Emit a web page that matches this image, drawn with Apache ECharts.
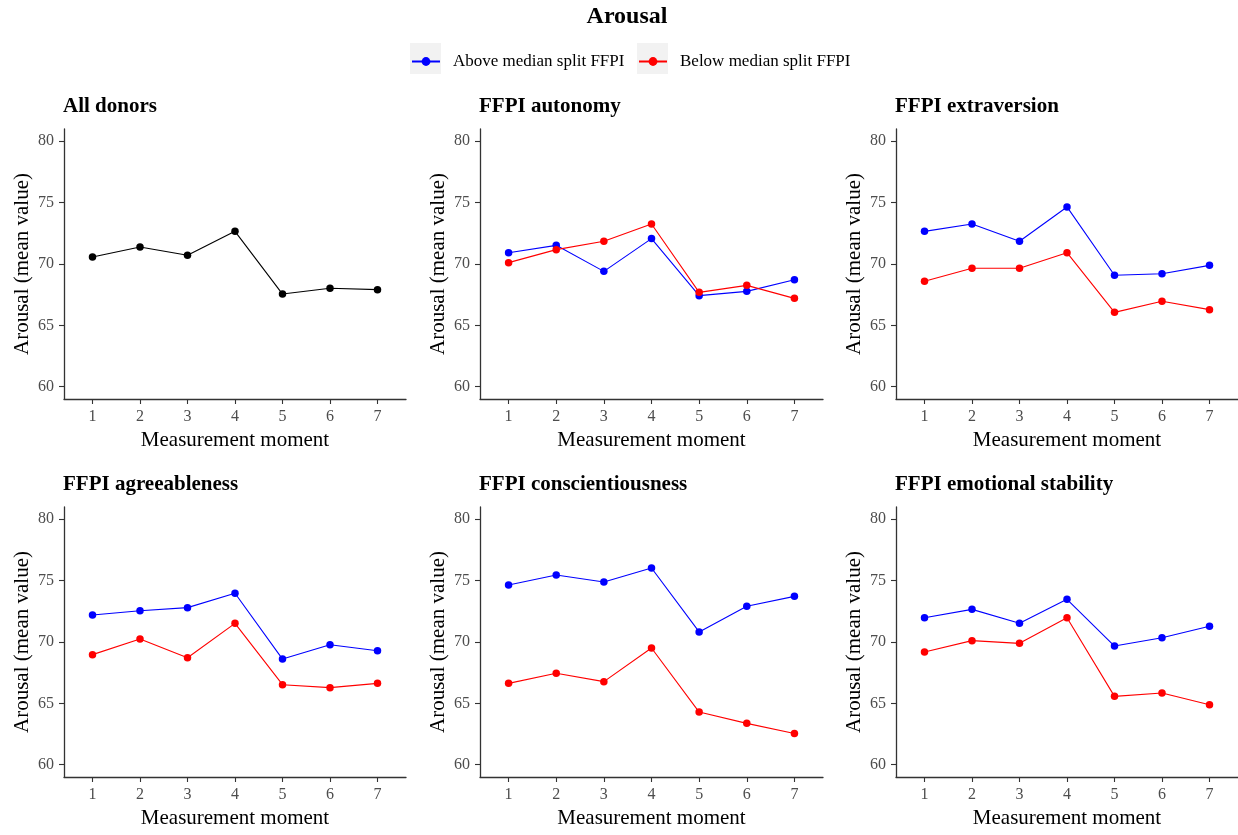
<!DOCTYPE html>
<html>
<head>
<meta charset="utf-8">
<title>Arousal</title>
<script src="https://cdn.jsdelivr.net/npm/echarts@6/dist/echarts.min.js"></script>
<style>
  html, body { margin: 0; padding: 0; background: #ffffff; }
  #chart { width: 1238px; height: 835px; }
</style>
</head>
<body>
<div id="chart"></div>
<script>
// Measurement moments (x) and the value-axis ticks
const moments = [1, 2, 3, 4, 5, 6, 7];
const xTicks = [1, 2, 3, 4, 5, 6, 7];
const yTicks = [60, 65, 70, 75, 80];

// Mean arousal per moment
const allDonors = [70.57, 71.39, 70.71, 72.66, 67.55, 68.02, 67.91];

const autonomyAbove = [70.92, 71.52, 69.40, 72.07, 67.42, 67.77, 68.72];
const autonomyBelow = [70.11, 71.17, 71.85, 73.26, 67.69, 68.26, 67.20];

const extraversionAbove = [72.66, 73.26, 71.85, 74.65, 69.08, 69.21, 69.89];
const extraversionBelow = [68.59, 69.65, 69.65, 70.92, 66.06, 66.96, 66.28];

const agreeablenessAbove = [72.20, 72.55, 72.80, 73.97, 68.61, 69.78, 69.29];
const agreeablenessBelow = [68.97, 70.24, 68.72, 71.52, 66.52, 66.28, 66.63];

const conscientiousnessAbove = [74.65, 75.46, 74.89, 76.03, 70.82, 72.91, 73.72];
const conscientiousnessBelow = [66.63, 67.45, 66.77, 69.51, 64.29, 63.37, 62.55];

const stabilityAbove = [71.98, 72.66, 71.52, 73.48, 69.67, 70.35, 71.28];
const stabilityBelow = [69.18, 70.11, 69.89, 71.98, 65.57, 65.84, 64.89];

const panelTitles = ['All donors', 'FFPI autonomy', 'FFPI extraversion',
  'FFPI agreeableness', 'FFPI conscientiousness', 'FFPI emotional stability'];
const aboveName = 'Above median split FFPI';
const belowName = 'Below median split FFPI';

const panels = [
  { lines: [{ name: 'All donors', values: allDonors, color: '#000000' }] },
  { lines: [{ name: aboveName, values: autonomyAbove, color: '#0000ff' },
            { name: belowName, values: autonomyBelow, color: '#ff0000' }] },
  { lines: [{ name: aboveName, values: extraversionAbove, color: '#0000ff' },
            { name: belowName, values: extraversionBelow, color: '#ff0000' }] },
  { lines: [{ name: aboveName, values: agreeablenessAbove, color: '#0000ff' },
            { name: belowName, values: agreeablenessBelow, color: '#ff0000' }] },
  { lines: [{ name: aboveName, values: conscientiousnessAbove, color: '#0000ff' },
            { name: belowName, values: conscientiousnessBelow, color: '#ff0000' }] },
  { lines: [{ name: aboveName, values: stabilityAbove, color: '#0000ff' },
            { name: belowName, values: stabilityBelow, color: '#ff0000' }] }
];

const FONT = '"Liberation Serif", "Times New Roman", serif';
const AXIS_COLOR = '#333333';
const TICK_TEXT = '#4d4d4d';

// Panel geometry (3 columns x 2 rows)
const colLeft = [64, 480, 896];
const colWidth = [342, 343, 342];
const rowTop = [129, 507];
const rowHeight = 270;

const grids = [], xAxes = [], yAxes = [], series = [], titles = [];

titles.push({
  text: 'Arousal', left: 627, top: 5, textAlign: 'center', padding: 0,
  textStyle: { fontFamily: FONT, fontSize: 24, fontWeight: 'bold', color: '#000' }
});

panels.forEach((p, i) => {
  const c = i % 3, r = Math.floor(i / 3);
  grids.push({ left: colLeft[c], top: rowTop[r], width: colWidth[c], height: rowHeight });
  titles.push({
    text: panelTitles[i], left: colLeft[c] - 1, top: rowTop[r] - 33, padding: 0,
    textStyle: { fontFamily: FONT, fontSize: 21, fontWeight: 'bold', color: '#000' }
  });
  xAxes.push({
    type: 'value', gridIndex: i, min: 0.4, max: 7.6,
    name: 'Measurement moment', nameLocation: 'middle', nameGap: 31,
    nameTextStyle: { fontFamily: FONT, fontSize: 21, color: '#000' },
    axisLine: { show: true, onZero: false, lineStyle: { color: AXIS_COLOR, width: 1.3 } },
    axisTick: { show: true, length: 5, customValues: xTicks, lineStyle: { color: AXIS_COLOR, width: 1.1 } },
    axisLabel: { customValues: xTicks, margin: 10, fontFamily: FONT, fontSize: 16, color: TICK_TEXT },
    splitLine: { show: false }
  });
  yAxes.push({
    type: 'value', gridIndex: i, min: 59, max: 81,
    name: 'Arousal (mean value)', nameLocation: 'middle', nameGap: 31,
    nameTextStyle: { fontFamily: FONT, fontSize: 21, color: '#000' },
    axisLine: { show: true, onZero: false, lineStyle: { color: AXIS_COLOR, width: 1.3 } },
    axisTick: { show: true, length: 5, customValues: yTicks, lineStyle: { color: AXIS_COLOR, width: 1.1 } },
    axisLabel: { customValues: yTicks, margin: 10, fontFamily: FONT, fontSize: 16, color: TICK_TEXT },
    splitLine: { show: false }
  });
  p.lines.forEach(l => {
    series.push({
      type: 'line', name: l.name, xAxisIndex: i, yAxisIndex: i,
      data: moments.map((m, k) => [m, l.values[k]]),
      symbol: 'circle', symbolSize: 7.5, showSymbol: true,
      lineStyle: { color: l.color, width: 1.1 },
      itemStyle: { color: l.color },
      emphasis: { disabled: true },
      animation: false
    });
  });
});

const legendText = { fontFamily: FONT, fontSize: 17, color: '#000', padding: [0, 0, 0, 8] };

const option = {
  backgroundColor: '#ffffff',
  animation: false,
  title: titles,
  legend: [
    { data: [aboveName], left: 411, top: 53, itemWidth: 28, itemHeight: 11, padding: 0,
      textStyle: legendText, selectedMode: false },
    { data: [belowName], left: 638, top: 53, itemWidth: 28, itemHeight: 11, padding: 0,
      textStyle: legendText, selectedMode: false }
  ],
  graphic: [
    { type: 'rect', z: -10, shape: { x: 410, y: 43, width: 31, height: 31 }, style: { fill: '#f2f2f2' } },
    { type: 'rect', z: -10, shape: { x: 637, y: 43, width: 31, height: 31 }, style: { fill: '#f2f2f2' } }
  ],
  grid: grids,
  xAxis: xAxes,
  yAxis: yAxes,
  series: series
};

const chart = echarts.init(document.getElementById('chart'), null, { renderer: 'canvas' });
chart.setOption(option);
</script>
</body>
</html>
